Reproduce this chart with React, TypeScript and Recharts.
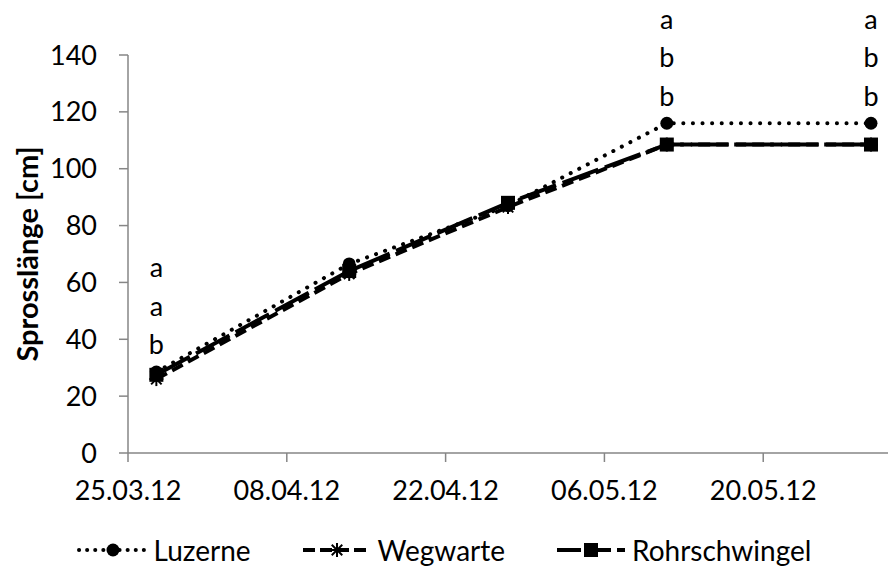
import React from "react";
import { LineChart, Line, XAxis, YAxis, Legend, LabelList } from "recharts";

// ---- data ----
const tickDays = [0, 14, 28, 42, 56];
const tickLabels = ["25.03.12", "08.04.12", "22.04.12", "06.05.12", "20.05.12"];
// sampling dates as days after 25.03.12
const sampleDays = [2.5, 19.5, 33.5, 47.5, 65.5];
const luzerne = [28.5, 66.5, 87, 116, 116];
const wegwarte = [26, 63, 86.5, 108.5, 108.5];
const rohrschwingel = [27.5, 64, 88, 108.5, 108.5];
const significance = ["a a b", "", "", "a b b", "a b b"];
const yTicks = [0, 20, 40, 60, 80, 100, 120, 140];

const data = sampleDays.map((d, i) => ({
  day: d,
  luzerne: luzerne[i],
  wegwarte: wegwarte[i],
  rohrschwingel: rohrschwingel[i],
  sig: significance[i],
}));

const FONT = "Lato, 'Open Sans', sans-serif";
const AXIS = "#868686";

const CircleDot = (p: any) => {
  if (p.cx == null || p.cy == null) return null;
  return <circle key={`c${p.index}`} cx={p.cx} cy={p.cy} r={6.5} fill="#000" />;
};
const SquareDot = (p: any) => {
  if (p.cx == null || p.cy == null) return null;
  return <rect key={`s${p.index}`} x={p.cx - 7} y={p.cy - 7} width={14} height={14} fill="#000" />;
};
const StarDot = (p: any) => {
  if (p.cx == null || p.cy == null) return null;
  const r = 7;
  const d = r * 0.75;
  return (
    <g key={`w${p.index}`} stroke="#000" strokeWidth={2}>
      <line x1={p.cx} y1={p.cy - r} x2={p.cx} y2={p.cy + r} />
      <line x1={p.cx - d} y1={p.cy - d} x2={p.cx + d} y2={p.cy + d} />
      <line x1={p.cx - d} y1={p.cy + d} x2={p.cx + d} y2={p.cy - d} />
      <line x1={p.cx - r} y1={p.cy} x2={p.cx + r} y2={p.cy} />
    </g>
  );
};

const series = [
  { key: "luzerne", name: "Luzerne", dash: "0.1 9.5", cap: "round", width: 4, Dot: CircleDot },
  { key: "wegwarte", name: "Wegwarte", dash: "12 6", cap: "butt", width: 4, Dot: StarDot },
  { key: "rohrschwingel", name: "Rohrschwingel", dash: "38 7", cap: "butt", width: 4, Dot: SquareDot },
];

const legendDash: Record<string, string> = {
  luzerne: "0.1 8",
  wegwarte: "12 5",
  rohrschwingel: "24 6",
};

const SigLabel = (props: any) => {
  const { x, y, value, index } = props;
  if (!value) return null;
  const letters = String(value).split(" ");
  const n = letters.length;
  return (
    <g key={`sig${index}`}>
      {letters.map((l, i) => (
        <text
          key={i}
          x={x}
          y={y - 27 - 38.5 * (n - 1 - i)}
          dy="0.35em"
          textAnchor="middle"
          fontFamily={FONT}
          fontSize={27}
          fill="#000"
        >
          {l}
        </text>
      ))}
    </g>
  );
};

const LegendContent = () => (
  <div
    style={{
      display: "flex",
      justifyContent: "center",
      alignItems: "center",
      height: 40,
      fontFamily: FONT,
      fontSize: 28,
      color: "#000",
    }}
  >
    {series.map((s, i) => (
      <div key={s.key} style={{ display: "flex", alignItems: "center", marginLeft: i === 0 ? 0 : 50 }}>
        <svg width={72} height={30}>
          <line
            x1={2}
            y1={15}
            x2={70}
            y2={15}
            stroke="#000"
            strokeWidth={4}
            strokeDasharray={legendDash[s.key]}
            strokeLinecap={s.cap as any}
          />
          <s.Dot cx={36} cy={15} index={i} />
        </svg>
        <span style={{ marginLeft: 5, lineHeight: "40px" }}>{s.name}</span>
      </div>
    ))}
  </div>
);

const YLabel = (props: any) => {
  const vb = props.viewBox || {};
  const cy = vb.y + vb.height / 2;
  return (
    <text
      x={28}
      y={cy}
      transform={`rotate(-90, 28, ${cy})`}
      textAnchor="middle"
      dy="0.35em"
      fontFamily={FONT}
      fontWeight="bold"
      fontSize={29}
      fill="#000"
    >
      Sprosslänge [cm]
    </text>
  );
};

export default function App() {
  return (
    <div style={{ position: "absolute", left: 0, top: 0, width: 888, height: 570 }}>
      <LineChart
        width={888}
        height={570}
        data={data}
        margin={{ top: 55, right: 0, bottom: 17, left: 0 }}
      >
        <XAxis
          dataKey="day"
          type="number"
          domain={[0, 67]}
          ticks={tickDays}
          tickFormatter={(v: number) => tickLabels[tickDays.indexOf(v)] ?? ""}
          height={60}
          tickSize={9}
          tickMargin={19}
          axisLine={{ stroke: AXIS, strokeWidth: 1.5 }}
          tickLine={{ stroke: AXIS, strokeWidth: 1.5 }}
          tick={{ fill: "#000", fontSize: 27, fontFamily: FONT }}
          interval={0}
        />
        <YAxis
          type="number"
          domain={[0, 140]}
          ticks={yTicks}
          width={128}
          tickSize={9}
          tickMargin={22}
          axisLine={{ stroke: AXIS, strokeWidth: 1.5 }}
          tickLine={{ stroke: AXIS, strokeWidth: 1.5 }}
          tick={{ fill: "#000", fontSize: 27, fontFamily: FONT }}
          label={<YLabel />}
          interval={0}
        />
        <Legend
          verticalAlign="bottom"
          height={40}
          content={<LegendContent />}
          wrapperStyle={{ bottom: 0, left: 0, width: 888 }}
        />
        {series.map((s) => (
          <Line
            key={s.key}
            dataKey={s.key}
            name={s.name}
            stroke="#000"
            strokeWidth={s.width}
            strokeDasharray={s.dash}
            strokeLinecap={s.cap as any}
            dot={<s.Dot />}
            activeDot={false}
            isAnimationActive={false}
          >
            {s.key === "luzerne" ? <LabelList dataKey="sig" content={<SigLabel />} /> : null}
          </Line>
        ))}
      </LineChart>
    </div>
  );
}
